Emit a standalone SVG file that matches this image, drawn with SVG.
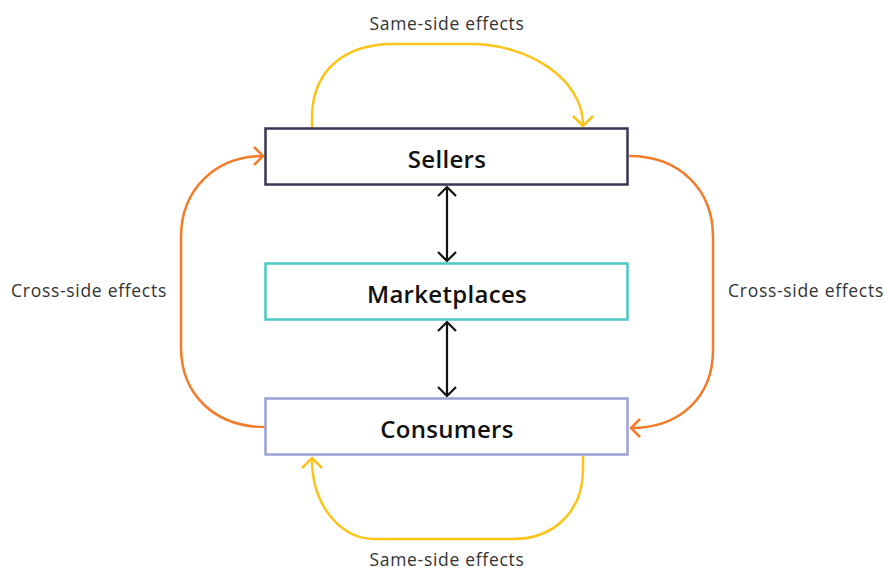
<svg xmlns="http://www.w3.org/2000/svg" width="885" height="572" viewBox="0 0 885 572">
<style>
.box{fill:#fff;stroke-width:2.5}
.lbl{font-family:"Open Sans","Liberation Sans",sans-serif;font-size:24px;font-weight:600;fill:#111;text-anchor:middle;letter-spacing:0.3px}
.note{font-family:"Open Sans","Liberation Sans",sans-serif;font-size:17.5px;fill:#333;text-anchor:middle;letter-spacing:0.7px}
.y{fill:none;stroke:#fcc419;stroke-width:2.5}
.o{fill:none;stroke:#f47b2a;stroke-width:2.5}
.k{fill:none;stroke:#111;stroke-width:2.2}
</style>
<rect width="885" height="572" fill="#fff"/>
<g id="connectors">
<path class="y" d="M312,128 L312,118 C312,70 345,44 393,44 L470,44 C530,44 583,80 583,125"/>
<path class="y" d="M573,116 L583,126 L593,116"/>
<path class="y" d="M583,455 L583,470 C583,510 555,539 513,539 L375,539 C340,539 312,505 312,459"/>
<path class="y" d="M302,468 L312,458 L322,468"/>
<path class="o" d="M265,427 C215,427 181,395 181,347 L181,237 C181,190 215,156 263,156"/>
<path class="o" d="M254,147 L263,156 L254,165"/>
<path class="o" d="M629,156 C680,156 713,190 713,237 L713,350 C713,397 680,428 631,428"/>
<path class="o" d="M640,419 L631,428 L640,437"/>
<path class="k" d="M447,187 L447,261 M438,196 L447,187 L456,196 M438,252 L447,261 L456,252"/>
<path class="k" d="M447,322 L447,396 M438,331 L447,322 L456,331 M438,387 L447,396 L456,387"/>
</g>
<g id="sellers">
<rect class="box" x="265.5" y="128.5" width="362" height="56" stroke="#3a3550"/>
<text class="lbl" x="447" y="168">Sellers</text>
</g>
<g id="marketplaces">
<rect class="box" x="265.5" y="263.5" width="362" height="56" stroke="#4cc9c4"/>
<text class="lbl" x="447" y="303">Marketplaces</text>
</g>
<g id="consumers">
<rect class="box" x="265.5" y="398.5" width="362" height="56" stroke="#9aa3d4"/>
<text class="lbl" x="447" y="438">Consumers</text>
</g>
<g id="labels">
<text class="note" x="447" y="30">Same-side effects</text>
<text class="note" x="447" y="566">Same-side effects</text>
<text class="note" x="89" y="297">Cross-side effects</text>
<text class="note" x="806" y="297">Cross-side effects</text>
</g>
</svg>
